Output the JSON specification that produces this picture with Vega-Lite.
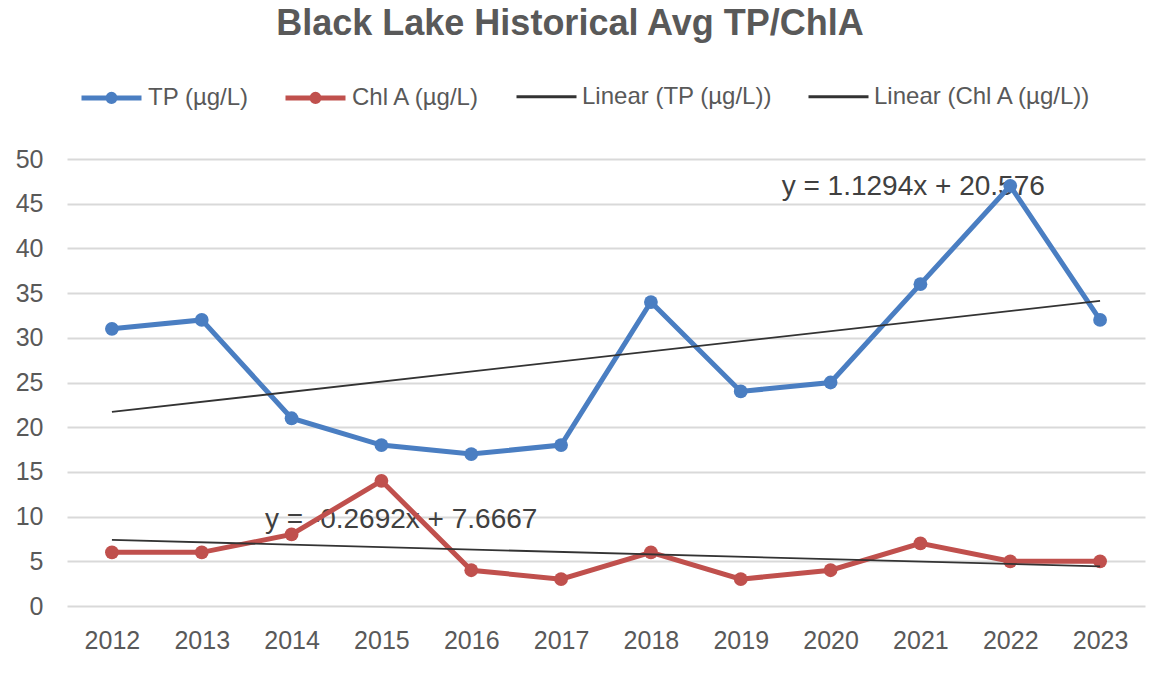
{
  "$schema": "https://vega.github.io/schema/vega-lite/v6.json",
  "width": 1078,
  "height": 447,
  "autosize": {"type": "none"},
  "padding": {"left": 67, "top": 159, "right": 13, "bottom": 86},
  "background": "white",
  "config": {
    "font": "Liberation Sans",
    "view": {"stroke": null}
  },
  "title": {
    "text": "Black Lake Historical Avg TP/ChlA",
    "font": "Liberation Sans",
    "fontSize": 36,
    "fontWeight": "bold",
    "color": "#595959",
    "anchor": "middle",
    "dx": -36,
    "offset": 22
  },
  "data": {
    "values": [
      {"year": 2012, "TP": 31, "ChlA": 6},
      {"year": 2013, "TP": 32, "ChlA": 6},
      {"year": 2014, "TP": 21, "ChlA": 8},
      {"year": 2015, "TP": 18, "ChlA": 14},
      {"year": 2016, "TP": 17, "ChlA": 4},
      {"year": 2017, "TP": 18, "ChlA": 3},
      {"year": 2018, "TP": 34, "ChlA": 6},
      {"year": 2019, "TP": 24, "ChlA": 3},
      {"year": 2020, "TP": 25, "ChlA": 4},
      {"year": 2021, "TP": 36, "ChlA": 7},
      {"year": 2022, "TP": 47, "ChlA": 5},
      {"year": 2023, "TP": 32, "ChlA": 5}
    ]
  },
  "layer": [
    {
      "data": {"values": [{}]},
      "mark": {"type": "text", "font": "Liberation Sans", "fontSize": 28, "color": "#404040", "align": "center", "baseline": "middle"},
      "encoding": {
        "x": {"datum": 2020.92, "type": "quantitative", "scale": {"domain": [2011.5, 2023.5], "nice": false, "zero": false}},
        "y": {"datum": 46.9, "type": "quantitative", "scale": {"domain": [0, 50], "nice": false}},
        "text": {"value": "y = 1.1294x + 20.576"}
      }
    },
    {
      "data": {"values": [{}]},
      "mark": {"type": "text", "font": "Liberation Sans", "fontSize": 28, "color": "#404040", "align": "center", "baseline": "middle"},
      "encoding": {
        "x": {"datum": 2015.22, "type": "quantitative", "scale": {"domain": [2011.5, 2023.5], "nice": false, "zero": false}},
        "y": {"datum": 9.6, "type": "quantitative", "scale": {"domain": [0, 50], "nice": false}},
        "text": {"value": "y = -0.2692x + 7.6667"}
      }
    },
    {
      "transform": [{"fold": ["TP", "ChlA"], "as": ["series", "value"]}],
      "mark": {"type": "line", "strokeWidth": 5, "point": {"filled": true, "size": 190}},
      "encoding": {
        "x": {
          "field": "year",
          "type": "quantitative",
          "scale": {"domain": [2011.5, 2023.5], "nice": false, "zero": false},
          "axis": {
            "title": null,
            "values": [2012, 2013, 2014, 2015, 2016, 2017, 2018, 2019, 2020, 2021, 2022, 2023],
            "format": "d",
            "grid": false,
            "ticks": false,
            "domain": false,
            "labelFont": "Liberation Sans",
            "labelFontSize": 25,
            "labelColor": "#595959",
            "labelPadding": 22
          }
        },
        "y": {
          "field": "value",
          "type": "quantitative",
          "scale": {"domain": [0, 50], "nice": false},
          "axis": {
            "title": null,
            "values": [0, 5, 10, 15, 20, 25, 30, 35, 40, 45, 50],
            "grid": true,
            "gridColor": "#d9d9d9",
            "gridWidth": 2,
            "ticks": false,
            "domain": false,
            "labelFont": "Liberation Sans",
            "labelFontSize": 25,
            "labelColor": "#595959",
            "labelPadding": 24
          }
        },
        "color": {
          "field": "series",
          "type": "nominal",
          "scale": {"domain": ["TP", "ChlA"], "range": ["#4A7EC2", "#C0504D"]},
          "legend": {
            "orient": "none",
            "legendX": 12,
            "legendY": -94,
            "direction": "horizontal",
            "title": null,
            "symbolType": "M-1,0H1M0.12,0A0.12,0.12,0,1,1,-0.12,0A0.12,0.12,0,1,1,0.12,0Z",
            "symbolSize": 3600,
            "symbolStrokeWidth": 5,
            "labelFont": "Liberation Sans",
            "labelFontSize": 24,
            "labelColor": "#595959",
            "labelOffset": 4,
            "labelLimit": 400,
            "columnPadding": 26,
            "labelExpr": "datum.label == 'TP' ? 'TP (µg/L)' : 'Chl A (µg/L)'"
          }
        }
      }
    },
    {
      "transform": [
        {"fold": ["TP", "ChlA"], "as": ["series", "value"]},
        {"regression": "value", "on": "year", "groupby": ["series"]}
      ],
      "mark": {"type": "line", "strokeWidth": 1.8},
      "encoding": {
        "x": {"field": "year", "type": "quantitative", "scale": {"domain": [2011.5, 2023.5], "nice": false, "zero": false}},
        "y": {"field": "value", "type": "quantitative", "scale": {"domain": [0, 50], "nice": false}},
        "color": {
          "field": "series",
          "type": "nominal",
          "scale": {"domain": ["TP", "ChlA"], "range": ["#333333", "#333333"]},
          "legend": {
            "orient": "none",
            "legendX": 448,
            "legendY": -94,
            "direction": "horizontal",
            "title": null,
            "symbolType": "stroke",
            "symbolSize": 3600,
            "symbolStrokeWidth": 3,
            "labelFont": "Liberation Sans",
            "labelFontSize": 24,
            "labelColor": "#595959",
            "labelOffset": 4,
            "labelLimit": 400,
            "columnPadding": 30,
            "labelExpr": "datum.label == 'TP' ? 'Linear (TP (µg/L))' : 'Linear (Chl A (µg/L))'"
          }
        }
      }
    }
  ],
  "resolve": {"scale": {"color": "independent"}}
}
